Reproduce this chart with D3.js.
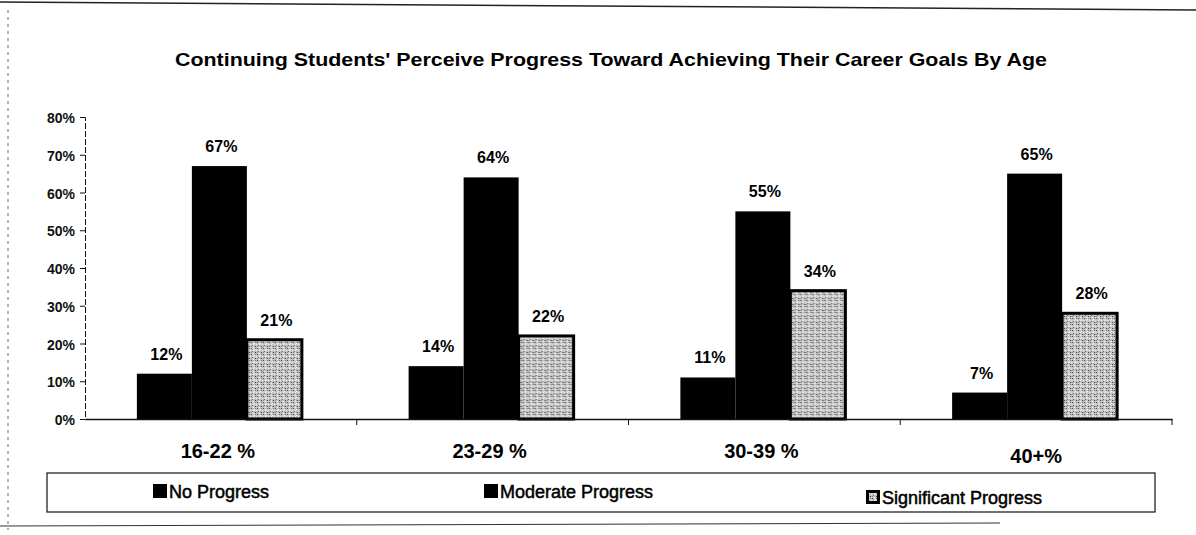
<!DOCTYPE html>
<html>
<head>
<meta charset="utf-8">
<script src="https://cdn.jsdelivr.net/npm/d3@7"></script>
<style>
  body { margin: 0; background: #fff; }
  svg { display: block; font-family: Arial, "Liberation Sans", sans-serif; }
</style>
</head>
<body>
<svg id="chart" width="1196" height="535"></svg>
<script>
// data
var ageGroups = ["16-22 %", "23-29 %", "30-39 %", "40+%"];
var seriesNames = ["No Progress", "Moderate Progress", "Significant Progress"];
var noProgress = [12, 14, 11, 7];
var moderateProgress = [67, 64, 55, 65];
var significantProgress = [21, 22, 34, 28];
var yTicks = [0, 10, 20, 30, 40, 50, 60, 70, 80];

var svg = d3.select("#chart");
var margin = {left: 85, right: 24, top: 117, bottom: 116};

// stipple texture for the significant bars
var defs = svg.append("defs");
var pat = defs.append("pattern")
    .attr("id", "stipple")
    .attr("width", 6).attr("height", 6)
    .attr("patternUnits", "userSpaceOnUse");
pat.append("rect").attr("width", 6).attr("height", 6).attr("fill", "#c4c4c4");
[[0,0,"#444"],[3,1,"#fff"],[1,3,"#666"],[4,4,"#333"],[5,2,"#eee"],[2,5,"#fff"],[0,4,"#888"],[4,0,"#777"],[2,2,"#fff"]]
  .forEach(function(p){
    pat.append("rect").attr("x", p[0]).attr("y", p[1]).attr("width", 1).attr("height", 1).attr("fill", p[2]);
  });

// page frame lines from the scan
svg.append("line").attr("x1", 0).attr("y1", 2).attr("x2", 1196).attr("y2", 10)
    .attr("stroke", "#222").attr("stroke-width", 1.5);
svg.append("line").attr("x1", 8).attr("y1", 10).attr("x2", 8).attr("y2", 530)
    .attr("stroke", "#666").attr("stroke-dasharray", "3,4");
svg.append("line").attr("x1", 0).attr("y1", 526).attr("x2", 1000).attr("y2", 523)
    .attr("stroke", "#333").attr("stroke-width", 1);

svg.append("text")
    .attr("x", 611).attr("y", 66)
    .attr("text-anchor", "middle")
    .attr("font-weight", "bold").attr("font-size", 19)
    .attr("textLength", 872).attr("lengthAdjust", "spacingAndGlyphs")
    .text("Continuing Students' Perceive Progress Toward Achieving Their Career Goals By Age");

var x0 = d3.scaleBand()
    .domain(ageGroups)
    .range([margin.left, 1172])
    .paddingInner(0).paddingOuter(0);

var x1 = d3.scaleBand()
    .domain(seriesNames)
    .range([0, 165]);

var y = d3.scaleLinear()
    .domain([0, 80])
    .range([419, 117]);

var rows = ageGroups.map(function(g, i){
  return {group: g, values: [
    {key: seriesNames[0], v: noProgress[i]},
    {key: seriesNames[1], v: moderateProgress[i]},
    {key: seriesNames[2], v: significantProgress[i]}
  ]};
});

// y axis
var yAxis = svg.append("g")
    .attr("transform", "translate(" + margin.left + ",0)")
    .call(d3.axisLeft(y).tickValues(yTicks).tickSize(5).tickFormat(function(d){ return d + "%"; }));
yAxis.select(".domain").attr("stroke", "#111").attr("stroke-dasharray", "6,2");
yAxis.selectAll(".tick line").attr("stroke", "#111");
yAxis.selectAll(".tick text")
    .attr("font-size", 14).attr("font-weight", "bold")
    .attr("font-family", "Arial, 'Liberation Sans', sans-serif")
    .attr("fill", "#111").attr("x", -10).attr("dy", "0.4em");

// bars
var groups = svg.append("g").selectAll("g")
    .data(rows)
    .enter().append("g")
    .attr("transform", function(d){ return "translate(" + (x0(d.group) + x0.bandwidth()/2 - 84) + ",0)"; });

groups.selectAll("rect")
    .data(function(d){ return d.values; })
    .enter().append("rect")
    .attr("x", function(d){ return x1(d.key); })
    .attr("y", function(d){ return y(d.v); })
    .attr("width", x1.bandwidth())
    .attr("height", function(d){ return y(0) - y(d.v); })
    .attr("fill", function(d){ return d.key === seriesNames[2] ? "url(#stipple)" : "#000"; })
    .attr("stroke", function(d){ return d.key === seriesNames[2] ? "#000" : "none"; })
    .attr("stroke-width", 3);

groups.selectAll("text")
    .data(function(d){ return d.values; })
    .enter().append("text")
    .attr("x", function(d){ return x1(d.key) + x1.bandwidth()/2 + 2; })
    .attr("y", function(d){ return y(d.v) - 14; })
    .attr("text-anchor", "middle")
    .attr("font-size", 16).attr("font-weight", "bold")
    .text(function(d){ return d.v + "%"; });

// x axis
var xAxis = svg.append("g")
    .attr("transform", "translate(0," + y(0) + ")")
    .call(d3.axisBottom(x0).tickSize(0).tickFormat(""));
xAxis.select(".domain").attr("stroke", "#111").attr("stroke-width", 1.5);
var bounds = [1, 2, 3, 4].map(function(i){ return margin.left + i * x0.step(); });
xAxis.selectAll(".sep").data(bounds).enter().append("line")
    .attr("class", "sep")
    .attr("x1", function(d){ return d; }).attr("x2", function(d){ return d; })
    .attr("y1", 0).attr("y2", 6)
    .attr("stroke", "#111");
svg.append("g").selectAll("text")
    .data(ageGroups)
    .enter().append("text")
    .attr("x", function(d, i){ return x0(d) + x0.bandwidth()/2 - 3 + (i === 3 ? 3 : 0); })
    .attr("y", function(d, i){ return i === 3 ? 463 : 458; })
    .attr("text-anchor", "middle")
    .attr("font-size", 20).attr("font-weight", "bold")
    .text(function(d){ return d; });

// legend
var legend = svg.append("g");
legend.append("rect")
    .attr("x", 47).attr("y", 473).attr("width", 1108).attr("height", 39)
    .attr("fill", "none").attr("stroke", "#111").attr("stroke-width", 1.2);
var legendX = [153, 484, 866];
var legendY = [498, 498, 504];
var items = legend.selectAll("g.item")
    .data(seriesNames)
    .enter().append("g")
    .attr("class", "item")
    .attr("transform", function(d, i){ return "translate(" + legendX[i] + "," + legendY[i] + ")"; });
items.append("rect")
    .attr("x", 0).attr("y", -14).attr("width", 14).attr("height", 14)
    .attr("fill", "#000");
items.filter(function(d, i){ return i === 2; }).append("rect")
    .attr("x", 3).attr("y", -11).attr("width", 8).attr("height", 8)
    .attr("fill", "url(#stipple)");
items.append("text")
    .attr("x", 16).attr("y", 0)
    .attr("font-size", 18)
    .attr("stroke", "#000").attr("stroke-width", 0.5)
    .text(function(d){ return d; });
</script>
</body>
</html>
